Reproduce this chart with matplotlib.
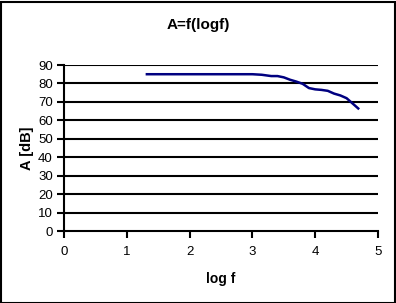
import matplotlib
matplotlib.use("Agg")
import matplotlib.pyplot as plt
from matplotlib.patches import Rectangle

plt.rcParams['font.family'] = ['Liberation Sans', 'DejaVu Sans']

log_f = [1.3, 1.7, 2.0, 2.3, 2.7, 3.0, 3.15, 3.3, 3.4, 3.5, 3.6, 3.7, 3.8, 3.9, 4.0, 4.1, 4.2, 4.3, 4.4, 4.5, 4.6, 4.7]
gain_db = [85, 85, 85, 85, 85, 85, 84.7, 84, 84, 83.3, 82, 81, 79.8, 77.5, 76.8, 76.5, 76, 74.5, 73.5, 72, 69, 66]
x_ticks = [0, 1, 2, 3, 4, 5]
y_ticks = [0, 10, 20, 30, 40, 50, 60, 70, 80, 90]

fig = plt.figure(figsize=(3.96, 3.03), dpi=100)
ax = fig.add_axes([64/396, 1 - 231/303, (378-64)/396, (231-65)/303])

ax.plot(log_f, gain_db, color='#000080', linewidth=1.8, solid_capstyle='butt')
ax.set_xlim(0, 5)
ax.set_ylim(0, 90)
ax.set_xticks(x_ticks)
ax.set_yticks(y_ticks)
for y in y_ticks[1:]:
    ax.axhline(y, color='black', linewidth=1.5, zorder=0)
for s in ['top', 'right']:
    ax.spines[s].set_visible(False)
for s in ['left', 'bottom']:
    ax.spines[s].set_linewidth(1.5)
ax.tick_params(axis='both', direction='out', length=5, width=1.5, labelsize=9.5, pad=3)
ax.tick_params(axis='x', pad=6)
ax.set_xlabel('log f', fontsize=10, fontweight='bold', labelpad=10)
ax.set_ylabel('A [dB]', fontsize=10.5, fontweight='bold', labelpad=3)
fig.text(0.5, 1 - 25/303, 'A=f(logf)', ha='center', va='center', fontsize=11, fontweight='bold')

fig.patches.append(Rectangle((0.5/396, 0.5/303), 1 - 2/396, 1 - 2/303, transform=fig.transFigure,
                             fill=False, edgecolor='black', linewidth=1.5))
fig.savefig('out.png', dpi=100)
